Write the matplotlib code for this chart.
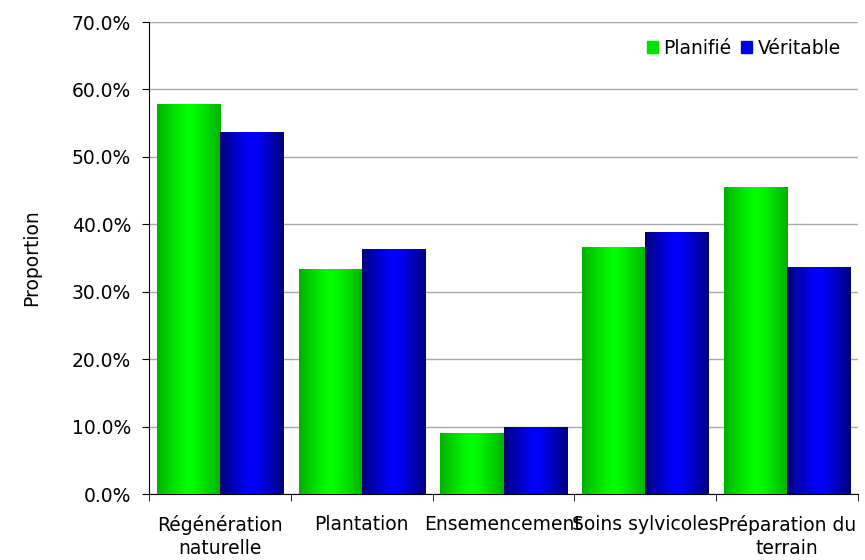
import numpy as np
import matplotlib.pyplot as plt
from matplotlib.colors import LinearSegmentedColormap
from matplotlib.ticker import PercentFormatter

categories = ['Régénération\nnaturelle', 'Plantation', 'Ensemencement',
              'Soins sylvicoles', 'Préparation du\nterrain']
planifie = [57.8, 33.4, 9.0, 36.6, 45.5]
veritable = [53.7, 36.3, 9.9, 38.9, 33.7]

plt.rcParams['font.family'] = 'DejaVu Sans'
plt.rcParams['font.size'] = 13.5

fig = plt.figure(figsize=(8.65, 5.6), dpi=100)
ax = fig.add_axes([149 / 865, 66 / 560, 709 / 865, 472 / 560])

x = np.arange(len(categories))
w = 0.445
bars_p = ax.bar(x - w / 2, planifie, w, color='#00ee00', zorder=2)
bars_v = ax.bar(x + w / 2, veritable, w, color='#0000ee', zorder=2)

# horizontal shading: dark edges, bright centre
grad = np.abs(np.linspace(-1, 1, 256)).reshape(1, -1)
cmap_g = LinearSegmentedColormap.from_list('g', ['#00ff00', '#00b000'])
cmap_b = LinearSegmentedColormap.from_list('b', ['#0000ff', '#000078'])
for bars, cmap in [(bars_p, cmap_g), (bars_v, cmap_b)]:
    for p in bars:
        x0, y0 = p.get_x(), p.get_y()
        im = ax.imshow(grad ** 1.3, cmap=cmap, aspect='auto', zorder=3,
                       extent=(x0, x0 + p.get_width(), y0, y0 + p.get_height()))
        im.set_clip_path(p)

ax.set_xlim(-0.5, len(categories) - 0.5)
ax.set_ylim(0, 70)
ax.set_yticks(np.arange(0, 71, 10))
ax.yaxis.set_major_formatter(PercentFormatter(decimals=1))
ax.yaxis.grid(True, color='#a8a8a8', linewidth=1, zorder=0)
ax.set_axisbelow(True)

ax.set_xticks(x)
ax.set_xticklabels(categories, linespacing=1.25)
ax.set_xticks(np.arange(-0.5, len(categories)), minor=True)
ax.tick_params(axis='x', which='major', length=0, pad=15)
ax.tick_params(axis='x', which='minor', length=5, direction='out')
ax.tick_params(axis='y', length=5, direction='out', pad=8)

for s in ['top', 'right']:
    ax.spines[s].set_visible(False)

ax.set_ylabel('Proportion', labelpad=22)

leg = ax.legend([bars_p, bars_v], ['Planifié', 'Véritable'], loc='upper right',
                frameon=False, ncol=2, handlelength=0.6, handleheight=0.6,
                handletextpad=0.3, columnspacing=0.5, bbox_to_anchor=(1.0, 1.0))
for h, c in zip(leg.legend_handles, ['#00e000', '#0000e0']):
    h.set_color(c)

fig.savefig('out.png', dpi=100)
